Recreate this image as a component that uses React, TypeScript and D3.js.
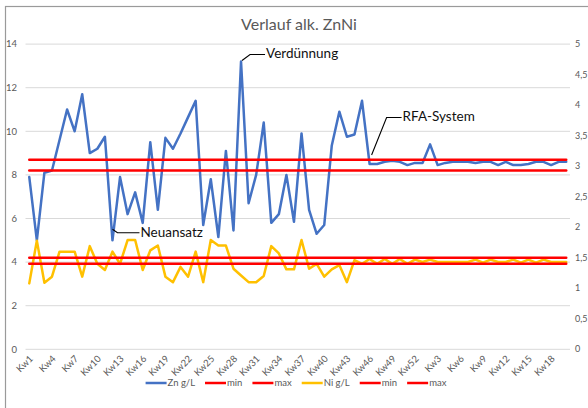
import React, { useEffect, useRef } from 'react';
import * as d3 from 'd3';

// categories: calendar weeks over two years
const weeks: string[] = [
  'Kw1', 'Kw2', 'Kw3', 'Kw4', 'Kw5', 'Kw6', 'Kw7', 'Kw8', 'Kw9', 'Kw10',
  'Kw11', 'Kw12', 'Kw13', 'Kw14', 'Kw15', 'Kw16', 'Kw17', 'Kw18', 'Kw19', 'Kw20',
  'Kw21', 'Kw22', 'Kw23', 'Kw24', 'Kw25', 'Kw26', 'Kw27', 'Kw28', 'Kw29', 'Kw30',
  'Kw31', 'Kw32', 'Kw33', 'Kw34', 'Kw35', 'Kw36', 'Kw37', 'Kw38', 'Kw39', 'Kw40',
  'Kw41', 'Kw42', 'Kw43', 'Kw44', 'Kw45', 'Kw46', 'Kw47', 'Kw48', 'Kw49', 'Kw50',
  'Kw51', 'Kw52',
  'Kw1', 'Kw2', 'Kw3', 'Kw4', 'Kw5', 'Kw6', 'Kw7', 'Kw8', 'Kw9', 'Kw10',
  'Kw11', 'Kw12', 'Kw13', 'Kw14', 'Kw15', 'Kw16', 'Kw17', 'Kw18', 'Kw19', 'Kw20',
];

// Zn g/L (left axis)
const zn: number[] = [
  7.9, 5.0, 8.1, 8.2, 9.6, 11.0, 10.0, 11.7, 9.0, 9.2,
  9.75, 5.0, 7.9, 6.2, 7.2, 5.8, 9.5, 6.4, 9.7, 9.2,
  9.9, 10.65, 11.4, 5.7, 7.8, 5.15, 9.1, 5.45, 13.2, 6.7,
  8.0, 10.4, 5.8, 6.2, 8.0, 5.85, 9.9, 6.4, 5.3, 5.7,
  9.35, 10.9, 9.75, 9.85, 11.4, 8.5, 8.5, 8.6, 8.65, 8.6,
  8.45, 8.55, 8.55, 9.4, 8.45, 8.55, 8.6, 8.6, 8.6, 8.55,
  8.6, 8.6, 8.45, 8.6, 8.45, 8.45, 8.5, 8.6, 8.6, 8.45,
  8.6, 8.6,
];

// Ni g/L (right axis)
const ni: number[] = [
  1.08, 1.78, 1.09, 1.19, 1.6, 1.6, 1.6, 1.19, 1.69, 1.4,
  1.3, 1.6, 1.4, 1.79, 1.79, 1.3, 1.62, 1.7, 1.19, 1.1,
  1.35, 1.19, 1.6, 1.1, 1.79, 1.7, 1.7, 1.32, 1.21, 1.1,
  1.1, 1.2, 1.69, 1.57, 1.31, 1.31, 1.79, 1.32, 1.4, 1.19,
  1.31, 1.38, 1.1, 1.46, 1.4, 1.48, 1.4, 1.48, 1.4, 1.48,
  1.4, 1.47, 1.43, 1.47, 1.43, 1.43, 1.43, 1.43, 1.43, 1.47,
  1.42, 1.47, 1.43, 1.43, 1.47, 1.42, 1.47, 1.42, 1.47, 1.43,
  1.43, 1.43,
];

const znLimits = { min: 8.2, max: 8.7 };
const niLimits = { min: 1.4, max: 1.5 };

const leftTicks = [0, 2, 4, 6, 8, 10, 12, 14];
const rightTicks = [0, 0.5, 1, 1.5, 2, 2.5, 3, 3.5, 4, 4.5, 5];

const legendItems = [
  { label: 'Zn g/L', color: '#4472C4' },
  { label: 'min', color: '#FF0000' },
  { label: 'max', color: '#FF0000' },
  { label: 'Ni g/L', color: '#FFC000' },
  { label: 'min', color: '#FF0000' },
  { label: 'max', color: '#FF0000' },
];

const FONT = 'Lato, "Open Sans", sans-serif';
const GREY = '#595959';

const ZnNiChart: React.FC = () => {
  const svgRef = useRef<SVGSVGElement>(null);

  useEffect(() => {
    if (!svgRef.current) return;
    const width = 588;
    const height = 408;
    const left = 25.5, right = 570, top = 44.1, bottom = 349.3;

    const svg = d3.select(svgRef.current);
    svg.selectAll('*').remove();
    svg.attr('width', width).attr('height', height).style('font-family', FONT);

    svg.append('rect').attr('width', width).attr('height', height).attr('fill', '#fff');
    // chart frame (cropped on the right / bottom)
    svg.append('rect')
      .attr('x', 5.5).attr('y', 6.5).attr('width', 640).attr('height', 460)
      .attr('fill', 'none').attr('stroke', '#9a9a9a').attr('stroke-width', 1.2);

    const idx = d3.range(weeks.length);
    const x = d3.scalePoint<number>().domain(idx).range([left, right]).padding(0.5);
    const yL = d3.scaleLinear().domain([0, 14]).range([bottom, top]);
    const yR = d3.scaleLinear().domain([0, 5]).range([bottom, top]);

    // gridlines
    svg.append('g').selectAll('line').data(leftTicks).join('line')
      .attr('x1', left).attr('x2', right)
      .attr('y1', d => yL(d)).attr('y2', d => yL(d))
      .attr('stroke', '#D9D9D9').attr('stroke-width', 1);

    // left axis labels
    svg.append('g').selectAll('text').data(leftTicks).join('text')
      .attr('x', 17).attr('y', d => yL(d)).attr('dy', '0.35em')
      .attr('text-anchor', 'end').attr('font-size', 9.5).attr('fill', GREY)
      .text(d => d);

    // right axis labels (German decimal comma)
    svg.append('g').selectAll('text').data(rightTicks).join('text')
      .attr('x', 575).attr('y', d => yR(d)).attr('dy', '0.35em')
      .attr('text-anchor', 'start').attr('font-size', 9).attr('fill', GREY)
      .text(d => String(d).replace('.', ','));

    // x labels, every third week
    svg.append('g').selectAll('text').data(idx.filter(i => i % 3 === 0)).join('text')
      .attr('text-anchor', 'end').attr('font-size', 9.5).attr('fill', GREY)
      .attr('dy', '0.35em')
      .attr('transform', i => `translate(${(x(i) as number) + 2},${357}) rotate(-45)`)
      .text(i => weeks[i]);

    const lineL = d3.line<number>().x((_, i) => x(i) as number).y(d => yL(d));
    const lineR = d3.line<number>().x((_, i) => x(i) as number).y(d => yR(d));

    const drawPath = (d: string | null, color: string) =>
      svg.append('path').attr('d', d).attr('fill', 'none').attr('stroke', color)
        .attr('stroke-width', 2.5).attr('stroke-linejoin', 'round').attr('stroke-linecap', 'round');

    drawPath(lineL(zn), '#4472C4');
    drawPath(lineL(idx.map(() => znLimits.min)), '#FF0000');
    drawPath(lineL(idx.map(() => znLimits.max)), '#FF0000');
    drawPath(lineR(ni), '#FFC000');
    drawPath(lineR(idx.map(() => niLimits.min)), '#FF0000');
    drawPath(lineR(idx.map(() => niLimits.max)), '#FF0000');

    // title
    svg.append('text')
      .attr('x', 299).attr('y', 30).attr('text-anchor', 'middle')
      .attr('font-size', 16).attr('fill', GREY)
      .text('Verlauf alk. ZnNi');

    // callouts
    const callout = (pts: [number, number][], tx: number, ty: number, label: string) => {
      svg.append('path').attr('d', d3.line()(pts)).attr('fill', 'none')
        .attr('stroke', '#000').attr('stroke-width', 1.1);
      svg.append('text').attr('x', tx).attr('y', ty).attr('dy', '0.35em')
        .attr('font-size', 13.5).attr('fill', '#111').text(label);
    };
    const px = (i: number) => x(i) as number;
    callout([[px(28) + 1, yL(zn[28]) - 1], [px(28) + 9, yL(zn[28]) - 7], [px(28) + 24, yL(zn[28]) - 7]], px(28) + 25, yL(zn[28]) - 8, 'Verdünnung');
    callout([[px(11), yL(zn[11]) - 11], [px(11) + 5, yL(zn[11]) - 7.5], [px(11) + 27, yL(zn[11]) - 7.5]], px(11) + 28, yL(zn[11]) - 8, 'Neuansatz');
    callout([[px(45) + 2, yL(zn[45]) - 9], [px(45) + 17, yL(zn[45]) - 46.5], [px(45) + 32, yL(zn[45]) - 46.5]], px(45) + 33, yL(zn[45]) - 48, 'RFA-System');

    // legend
    const lg = svg.append('g');
    let cx = 0;
    legendItems.forEach(item => {
      lg.append('line').attr('x1', cx).attr('x2', cx + 21).attr('y1', 0).attr('y2', 0)
        .attr('stroke', item.color).attr('stroke-width', 2.5);
      const t = lg.append('text').attr('x', cx + 22).attr('y', 0).attr('dy', '0.35em')
        .attr('font-size', 9.5).attr('fill', GREY).text(item.label);
      const w = (t.node() as SVGTextElement).getComputedTextLength();
      cx += 22 + w + 10;
    });
    const total = cx - 10;
    lg.attr('transform', `translate(${296 - total / 2},383)`);
  }, []);

  return <svg ref={svgRef} style={{ display: 'block' }}></svg>;
};

export default function App() {
  return (
    <div style={{ position: 'fixed', left: 0, top: 0 }}>
      <ZnNiChart />
    </div>
  );
}
